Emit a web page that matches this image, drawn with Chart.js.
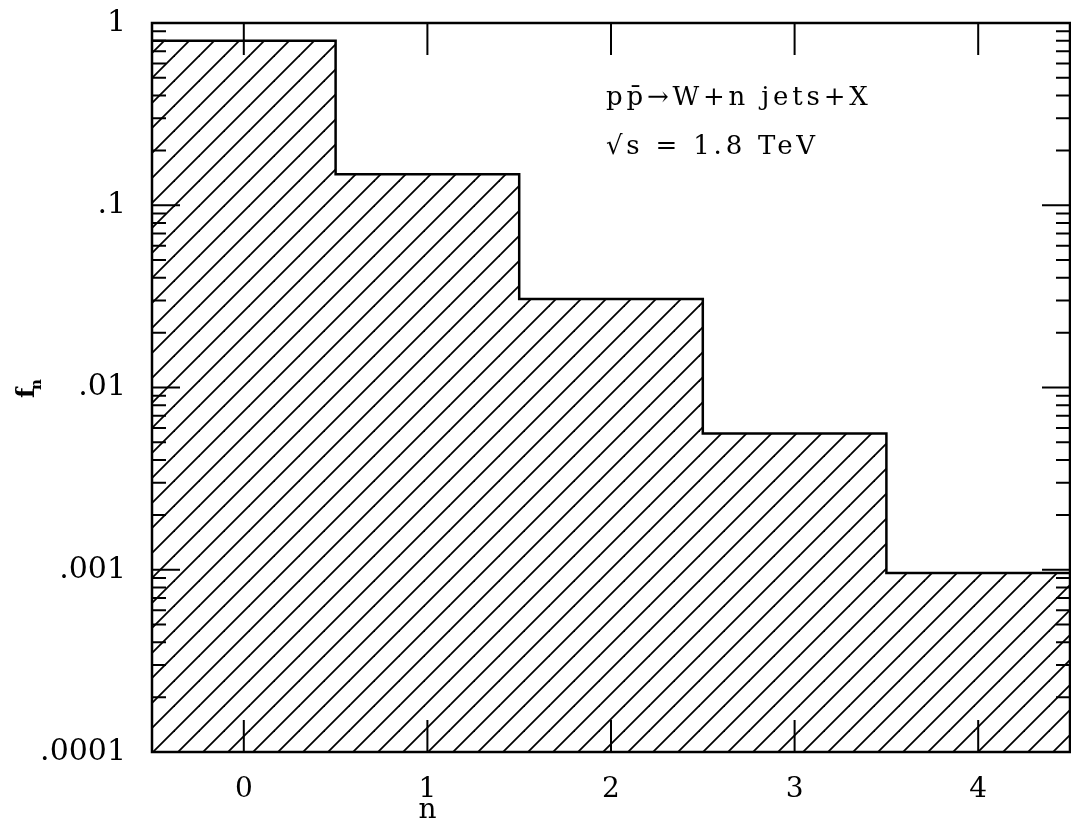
<!DOCTYPE html>
<html>
<head>
<meta charset="utf-8">
<script src="https://cdn.jsdelivr.net/npm/chart.js@4/dist/chart.umd.min.js"></script>
<style>
  html, body { margin: 0; padding: 0; background: #fff; }
  #wrap { width: 1071px; height: 830px; position: relative; }
</style>
</head>
<body>
<div id="wrap"><canvas id="c"></canvas></div>
<script>
// jet multiplicity bins and fraction per bin
const bins = [0, 1, 2, 3, 4];
const fn = [0.80, 0.148, 0.0306, 0.0056, 0.00096];
const xTickLabels = ['0', '1', '2', '3', '4'];
const yTicks = [1, 0.1, 0.01, 0.001, 0.0001];
const yTickLabels = ['1', '.1', '.01', '.001', '.0001'];
const noteLines = ['pp\u0304\u2192W+n jets+X', '\u221As = 1.8 TeV'];

// step outline: each bin runs from n-0.5 to n+0.5
const pts = bins.map((n, i) => ({ x: n - 0.5, y: fn[i] }));
pts.push({ x: bins[bins.length - 1] + 0.5, y: fn[fn.length - 1] });

function hatch() {
  const p = document.createElement('canvas');
  p.width = 25; p.height = 25;
  const g = p.getContext('2d');
  g.strokeStyle = '#000';
  g.lineWidth = 1.8;
  [-20, 5, 30, 55].forEach(c => {
    g.beginPath(); g.moveTo(-10, c + 10); g.lineTo(c + 10, -10); g.stroke();
  });
  return g.createPattern(p, 'repeat');
}

const deco = {
  id: 'deco',
  afterDatasetsDraw(chart) {
    const { ctx, chartArea: a, scales: { x, y } } = chart;
    ctx.save();
    ctx.strokeStyle = '#000';
    ctx.lineWidth = 2;
    // x ticks, top and bottom, pointing inward
    bins.forEach(n => {
      const px = x.getPixelForValue(n);
      ctx.beginPath();
      ctx.moveTo(px, a.bottom); ctx.lineTo(px, a.bottom - 32);
      ctx.moveTo(px, a.top); ctx.lineTo(px, a.top + 32);
      ctx.stroke();
    });
    // log ticks left and right
    for (let d = -4; d < 0; d++) {
      for (let m = 1; m <= 9; m++) {
        const v = m * Math.pow(10, d);
        const py = y.getPixelForValue(v);
        const len = m === 1 ? 28 : 14;
        ctx.beginPath();
        ctx.moveTo(a.left, py); ctx.lineTo(a.left + len, py);
        ctx.moveTo(a.right, py); ctx.lineTo(a.right - len, py);
        ctx.stroke();
      }
    }
    // frame
    ctx.lineWidth = 2.5;
    ctx.strokeRect(a.left, a.top, a.right - a.left, a.bottom - a.top);

    // note text
    ctx.fillStyle = '#000';
    ctx.font = '26px "DejaVu Serif"';
    ctx.letterSpacing = '3.8px';
    ctx.textAlign = 'left';
    ctx.textBaseline = 'alphabetic';
    ctx.fillText(noteLines[0], 606, 105);
    ctx.fillText(noteLines[1], 606, 154);
    ctx.letterSpacing = '0px';

    // x title
    ctx.font = '28px "DejaVu Serif"';
    ctx.textAlign = 'center';
    ctx.fillText('n', x.getPixelForValue(1), 818);

    // y title f_n, rotated
    ctx.translate(34, 390);
    ctx.rotate(-Math.PI / 2);
    ctx.font = 'bold 24px "DejaVu Serif"';
    ctx.textAlign = 'left';
    ctx.fillText('f', -8, 0);
    ctx.font = 'bold 15px "DejaVu Serif"';
    ctx.fillText('n', 0, 7);
    ctx.restore();
  }
};

new Chart(document.getElementById('c'), {
  type: 'line',
  data: {
    datasets: [{
      data: pts,
      stepped: 'before',
      fill: 'start',
      backgroundColor: hatch(),
      borderColor: '#000',
      borderWidth: 2.5,
      pointRadius: 0
    }]
  },
  options: {
    responsive: true,
    maintainAspectRatio: false,
    animation: false,
    layout: { padding: { top: 23, right: 1, left: 0, bottom: 0 } },
    plugins: { legend: { display: false }, tooltip: { enabled: false } },
    scales: {
      x: {
        type: 'linear',
        min: -0.5, max: 4.5,
        grid: { display: false },
        border: { display: false },
        afterBuildTicks: s => { s.ticks = bins.map(v => ({ value: v })); },
        afterFit: s => { s.height = 78; },
        ticks: {
          padding: 13,
          color: '#000',
          font: { family: 'DejaVu Serif', size: 28 },
          callback: (v) => xTickLabels[bins.indexOf(v)]
        }
      },
      y: {
        type: 'logarithmic',
        min: 0.0001, max: 1,
        grid: { display: false },
        border: { display: false },
        afterBuildTicks: s => { s.ticks = yTicks.map(v => ({ value: v })); },
        afterFit: s => { s.width = 152; s.paddingTop = 0; s.paddingBottom = 0; },
        ticks: {
          padding: 18,
          color: '#000',
          font: { family: 'DejaVu Serif', size: 30, lineHeight: 0.5 },
          callback: (v) => yTickLabels[yTicks.indexOf(v)]
        }
      }
    }
  },
  plugins: [deco]
});
</script>
</body>
</html>
